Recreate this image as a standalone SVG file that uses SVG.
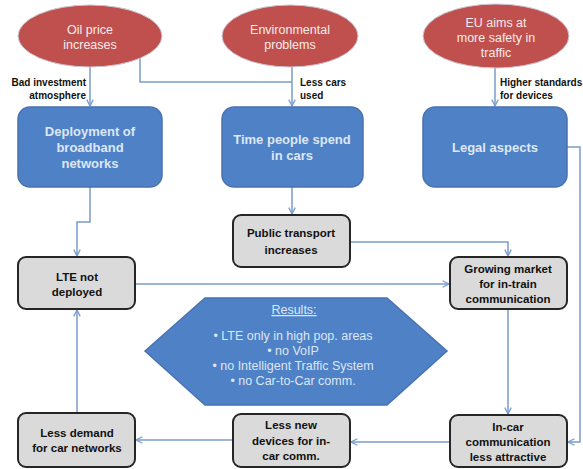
<svg xmlns="http://www.w3.org/2000/svg" width="583" height="469" viewBox="0 0 583 469">
<defs>
<marker id="arr" viewBox="0 0 10 10" refX="9" refY="5" markerWidth="8" markerHeight="8" orient="auto" markerUnits="userSpaceOnUse">
<path d="M1,1 L9,5 L1,9" fill="none" stroke="#7a9ccc" stroke-width="1.6"/>
</marker>
<style>
.ell{fill:#c0504d;stroke:#c9c9d6;stroke-width:1}
.ell-t{font-family:"Liberation Sans",Arial,sans-serif;font-size:12.5px;fill:#f6ecec;text-anchor:middle}
.blue{fill:#4f81c7;stroke:#4a72b0;stroke-width:1.5}
.blue-t{font-family:"Liberation Sans",Arial,sans-serif;font-size:13px;font-weight:bold;fill:#dde7f5;text-anchor:middle}
.gray{fill:#dadada;stroke:#262626;stroke-width:2}
.gray-t{font-family:"Liberation Sans",Arial,sans-serif;font-size:11.5px;font-weight:bold;fill:#111;text-anchor:middle}
.lab{font-family:"Liberation Sans",Arial,sans-serif;font-size:10px;font-weight:bold;fill:#111}
.con{fill:none;stroke:#7a9ccc;stroke-width:1.5}
.hex{fill:#4f81c7;stroke:#4a72b0;stroke-width:1.5}
.hex-t{font-family:"Liberation Sans",Arial,sans-serif;font-size:12.5px;fill:#dce6f4;text-anchor:middle}
</style>
</defs>
<rect width="583" height="469" fill="#ffffff"/>
<g id="connectors">
<path class="con" d="M90,67 V106" marker-end="url(#arr)"/>
<path class="con" d="M140,57 V82 H292"/>
<path class="con" d="M292,67 V106" marker-end="url(#arr)"/>
<path class="con" d="M495,68 V106" marker-end="url(#arr)"/>
<path class="con" d="M567,147 H580 V442 H568" marker-end="url(#arr)"/>
<path class="con" d="M90,187 V222 H77 V256" marker-end="url(#arr)"/>
<path class="con" d="M292,187 V214" marker-end="url(#arr)"/>
<path class="con" d="M350,242 H508 V256" marker-end="url(#arr)"/>
<path class="con" d="M135,284 H449" marker-end="url(#arr)"/>
<path class="con" d="M508,309 V414" marker-end="url(#arr)"/>
<path class="con" d="M450,442 H351" marker-end="url(#arr)"/>
<path class="con" d="M233,440 H136" marker-end="url(#arr)"/>
<path class="con" d="M77,413 V310" marker-end="url(#arr)"/>
<text class="lab" x="86" y="86" text-anchor="end">Bad investment</text>
<text class="lab" x="86" y="99" text-anchor="end">atmosphere</text>
<text class="lab" x="300" y="86">Less cars</text>
<text class="lab" x="300" y="99">used</text>
<text class="lab" x="500" y="86">Higher standards</text>
<text class="lab" x="500" y="99">for devices</text>
</g>
<g id="oil">
<ellipse class="ell" cx="90" cy="36" rx="72" ry="31"/>
<text class="ell-t" x="90" y="34">Oil price</text>
<text class="ell-t" x="90" y="49">increases</text>
</g>
<g id="env">
<ellipse class="ell" cx="290" cy="36" rx="68" ry="31"/>
<text class="ell-t" x="290" y="34">Environmental</text>
<text class="ell-t" x="290" y="49">problems</text>
</g>
<g id="eu">
<ellipse class="ell" cx="496" cy="36" rx="73" ry="32"/>
<text class="ell-t" x="496" y="27">EU aims at</text>
<text class="ell-t" x="496" y="42">more safety in</text>
<text class="ell-t" x="496" y="57">traffic</text>
</g>
<g id="deployment">
<rect class="blue" x="18" y="107" width="144" height="80" rx="12"/>
<text class="blue-t" x="90" y="136">Deployment of</text>
<text class="blue-t" x="90" y="152">broadband</text>
<text class="blue-t" x="90" y="168">networks</text>
</g>
<g id="time">
<rect class="blue" x="222" y="107" width="141" height="80" rx="12"/>
<text class="blue-t" x="292" y="144">Time people spend</text>
<text class="blue-t" x="292" y="160">in cars</text>
</g>
<g id="legal">
<rect class="blue" x="423" y="107" width="144" height="80" rx="12"/>
<text class="blue-t" x="495" y="152">Legal aspects</text>
</g>
<g id="public">
<rect class="gray" x="233" y="215" width="117" height="52" rx="8"/>
<text class="gray-t" x="291" y="237">Public transport</text>
<text class="gray-t" x="291" y="254">increases</text>
</g>
<g id="lte">
<rect class="gray" x="18" y="257" width="117" height="52" rx="8"/>
<text class="gray-t" x="77" y="281">LTE not</text>
<text class="gray-t" x="77" y="296">deployed</text>
</g>
<g id="growing">
<rect class="gray" x="450" y="257" width="117" height="52" rx="8"/>
<text class="gray-t" x="508" y="273">Growing market</text>
<text class="gray-t" x="508" y="288">for in-train</text>
<text class="gray-t" x="508" y="303">communication</text>
</g>
<g id="results">
<polygon class="hex" points="145,351 205,298 387,298 447,351 387,405 205,405"/>
<text class="hex-t" x="294" y="314" text-decoration="underline">Results:</text>
<text class="hex-t" x="293" y="340">• LTE only in high pop. areas</text>
<text class="hex-t" x="293" y="355">• no VoIP</text>
<text class="hex-t" x="293" y="370">• no Intelligent Traffic System</text>
<text class="hex-t" x="293" y="385">• no Car-to-Car comm.</text>
</g>
<g id="incar">
<rect class="gray" x="450" y="415" width="117" height="52" rx="8"/>
<text class="gray-t" x="508" y="431">In-car</text>
<text class="gray-t" x="508" y="446">communication</text>
<text class="gray-t" x="508" y="461">less attractive</text>
</g>
<g id="lessnew">
<rect class="gray" x="233" y="414" width="117" height="53" rx="8"/>
<text class="gray-t" x="291" y="429">Less new</text>
<text class="gray-t" x="291" y="445">devices for in-</text>
<text class="gray-t" x="291" y="460">car comm.</text>
</g>
<g id="lessdemand">
<rect class="gray" x="18" y="413" width="117" height="54" rx="8"/>
<text class="gray-t" x="77" y="437">Less demand</text>
<text class="gray-t" x="77" y="452">for car networks</text>
</g>
</svg>
